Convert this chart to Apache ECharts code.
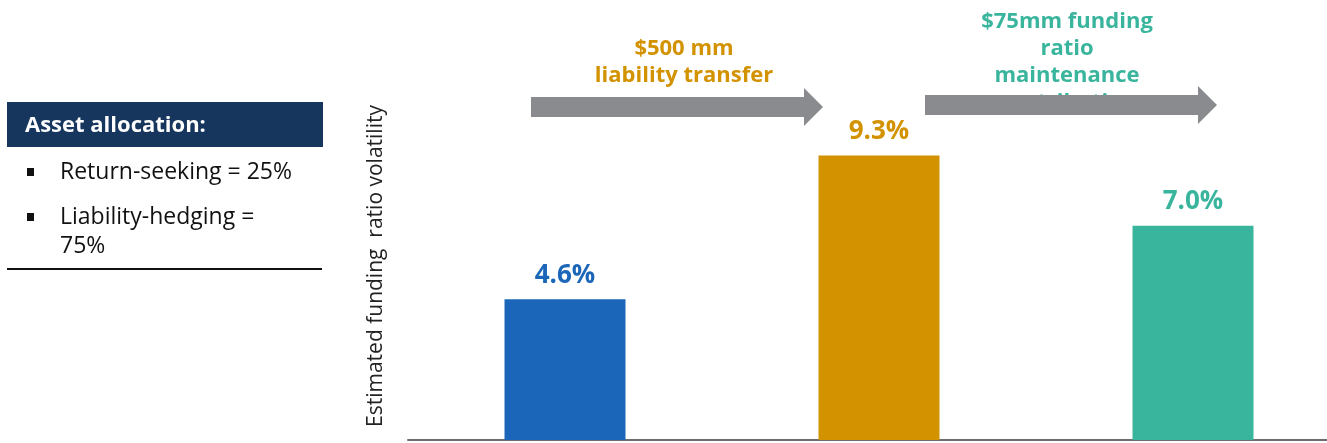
<!DOCTYPE html>
<html>
<head>
<meta charset="utf-8">
<script src="https://cdn.jsdelivr.net/npm/echarts@6/dist/echarts.min.js"></script>
<style>
  html, body { margin: 0; padding: 0; background: #fff; overflow: hidden; }
  #chart { width: 1350px; height: 443px; }
</style>
</head>
<body>
<div id="chart"></div>
<script>
// Funding ratio volatility at each stage of the plan
const categories = ['Current plan', 'After liability transfer', 'After contribution'];
const volatility = [4.6, 9.3, 7.0];
const barColors = ['#1c66b9', '#d39200', '#3ab59d'];

const allocationTitle = 'Asset allocation:';
const allocationLines = ['Return-seeking = 25%', 'Liability-hedging =', '75%'];
const yTitle = 'Estimated funding  ratio volatility';
const stepOneText = '$500 mm\nliability transfer';
const stepTwoText = '$75mm funding\nratio\nmaintenance\ncontribution';

const FONT = '"Open Sans", "Noto Sans", sans-serif';
const ARROW = '#8a8b8e';

function arrowShape(x0, x1, yMid, bodyH, headH, headL) {
  const bt = yMid - bodyH / 2, bb = yMid + bodyH / 2;
  const hx = x1 - headL;
  return [[x0, bt], [hx, bt], [hx, yMid - headH / 2], [x1, yMid], [hx, yMid + headH / 2], [hx, bb], [x0, bb]];
}

const chart = echarts.init(document.getElementById('chart'));
chart.setOption({
  animation: false,
  grid: { left: 408, right: 0, top: 134, bottom: 3 },
  xAxis: {
    type: 'category',
    data: categories,
    axisLine: { show: true, lineStyle: { color: '#6d6d6d', width: 2 } },
    axisTick: { show: false },
    axisLabel: { show: false }
  },
  yAxis: {
    type: 'value',
    min: 0,
    max: 10,
    axisLine: { show: false },
    axisTick: { show: false },
    axisLabel: { show: false },
    splitLine: { show: false }
  },
  series: [{
    type: 'bar',
    barWidth: 121,
    data: volatility.map((v, i) => ({
      value: v,
      itemStyle: { color: barColors[i] },
      label: { color: barColors[i] }
    })),
    label: {
      show: true,
      position: 'top',
      distance: 11,
      fontFamily: FONT,
      fontWeight: 'bold',
      fontSize: 26,
      formatter: p => p.value.toFixed(1) + '%'
    }
  }],
  graphic: [
    // allocation panel
    { type: 'rect', shape: { x: 7, y: 102, width: 316, height: 45 }, style: { fill: '#17365d' } },
    { type: 'text', x: 25, y: 126, style: { text: allocationTitle, fill: '#fff', font: 'bold 22px ' + FONT, verticalAlign: 'middle' } },
    { type: 'rect', shape: { x: 27, y: 168, width: 7, height: 8 }, style: { fill: '#111' } },
    { type: 'text', x: 60, y: 172, style: { text: allocationLines[0], fill: '#111', font: '23px ' + FONT, verticalAlign: 'middle' } },
    { type: 'rect', shape: { x: 27, y: 213, width: 7, height: 8 }, style: { fill: '#111' } },
    { type: 'text', x: 60, y: 217, style: { text: allocationLines[1], fill: '#111', font: '23px ' + FONT, verticalAlign: 'middle' } },
    { type: 'text', x: 60, y: 246, style: { text: allocationLines[2], fill: '#111', font: '23px ' + FONT, verticalAlign: 'middle' } },
    { type: 'line', shape: { x1: 7, y1: 269, x2: 322, y2: 269 }, style: { stroke: '#111', lineWidth: 2 } },
    // axis title
    { type: 'text', x: 376, y: 266, rotation: Math.PI / 2,
      style: { text: yTitle, fill: '#222', font: '21px ' + FONT, align: 'center', verticalAlign: 'middle' } },
    // step annotations
    { type: 'text', x: 684, y: 62, z: 10,
      style: { text: stepOneText, fill: '#d39200', font: 'bold 22px ' + FONT, align: 'center', verticalAlign: 'middle', lineHeight: 27 } },
    { type: 'polygon', z: 11, shape: { points: arrowShape(531, 823, 107, 20, 38, 19) }, style: { fill: ARROW } },
    { type: 'text', x: 1067, y: 62, z: 10,
      style: { text: stepTwoText, fill: '#3ab59d', font: 'bold 22px ' + FONT, align: 'center', verticalAlign: 'middle', lineHeight: 27 } },
    { type: 'polygon', z: 11, shape: { points: arrowShape(925, 1217, 105, 20, 38, 19) }, style: { fill: ARROW } }
  ]
});
</script>
</body>
</html>
